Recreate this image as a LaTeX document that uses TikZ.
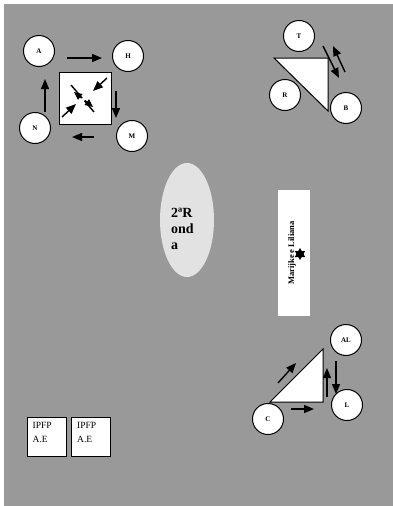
\documentclass[tikz,border=0pt]{standalone}
\usepackage{fontspec}
\setmainfont{Liberation Serif}
\usetikzlibrary{arrows.meta,shapes.geometric,calc}
\definecolor{bg}{HTML}{999999}
\definecolor{ovalfill}{HTML}{E2E2E2}
\tikzset{
  person/.style={circle,draw=black,line width=1pt,fill=white,minimum size=31pt,inner sep=0pt,font=\bfseries\fontsize{7}{8}\selectfont},
  mov/.style={line width=1.4pt,-{Triangle[length=10pt,width=8pt]}},
  boxw/.style={draw=black,line width=1pt,fill=white},
  ipfp/.style={draw=black,line width=1pt,fill=white,minimum width=39pt,minimum height=39pt,inner sep=0pt}
}
\begin{document}
\begin{tikzpicture}[x=1pt,y=-1pt]
\useasboundingbox (0,0) rectangle (393,506);
\fill[white] (0,0) rectangle (393,506);
\fill[bg] (4,4) rectangle (393,506);

% top-left group
\node[boxw,minimum width=52pt,minimum height=52pt,inner sep=0pt] (sq) at (85,98) {};
\node[person] (A) at (39,51) {A};
\node[person] (H) at (128,56) {H};
\node[person] (N) at (35,128) {N};
\node[person] (M) at (132,136) {M};
\coordinate (a1) at (67,58); \coordinate (a2) at (102,58);
\coordinate (b1) at (116,91); \coordinate (b2) at (116,118);
\coordinate (c1) at (94,137); \coordinate (c2) at (72,137);
\coordinate (d1) at (45,112); \coordinate (d2) at (45,79);
\draw[mov] (a1) -- (a2);
\draw[mov] (b1) -- (b2);
\draw[mov] (c1) -- (c2);
\draw[mov] (d1) -- (d2);
% inside square
\coordinate (s1) at (71,85); \coordinate (s2) at (94,112);
\draw[line width=1.4pt] (s1) -- (s2);
\coordinate (e1) at (107,78); \coordinate (e2) at (93,91);
\coordinate (f1) at (62,117); \coordinate (f2) at (76,104);
\coordinate (g1) at (74,92); \coordinate (g2) at (93,107);
\draw[mov] (e1) -- (e2);
\draw[mov] (f1) -- (f2);
\draw[line width=1.4pt,{Triangle[length=8pt,width=7pt]}-{Triangle[length=8pt,width=7pt]}] (g1) -- (g2);
\node[circle,fill=white,minimum size=4pt,inner sep=0pt] (dot) at (83,99.5) {};

% top-right group
\coordinate (t1) at (274,58); \coordinate (t2) at (328,58); \coordinate (t3) at (328,111);
\draw[boxw] (t1) -- (t2) -- (t3) -- cycle;
\node[person] (T) at (299,36) {T};
\node[person] (R) at (285,95) {R};
\node[person] (B) at (346,108) {B};
\coordinate (h1) at (323,46); \coordinate (h2) at (339,78);
\coordinate (k1) at (345,72); \coordinate (k2) at (333,46);
\draw[mov] (h1) -- (h2);
\draw[mov] (k1) -- (k2);

% oval
\node[ellipse,fill=ovalfill,minimum width=54pt,minimum height=114pt,inner sep=0pt] (ov) at (187,220) {};
\node[anchor=north west,align=left,font=\bfseries\fontsize{14}{16}\selectfont,inner sep=0pt] (ovt) at (171,208) {2ªR\\ond\\a};

% white rectangle
\node[fill=white,minimum width=32pt,minimum height=126pt,inner sep=0pt] (wr) at (294,253) {};
\node[rotate=90,font=\bfseries\fontsize{8.5}{9}\selectfont,inner sep=0pt] (ml) at (292,253) {Marijke e Liliana};
\coordinate (st) at (300,254);
\fill[black] ($(st)+(0,-6)$) -- ($(st)+(5.2,3)$) -- ($(st)+(-5.2,3)$) -- cycle;
\fill[black] ($(st)+(0,6)$) -- ($(st)+(5.2,-3)$) -- ($(st)+(-5.2,-3)$) -- cycle;

% bottom-right group
\coordinate (u1) at (270,402); \coordinate (u2) at (323,349); \coordinate (u3) at (323,402);
\draw[boxw] (u1) -- (u2) -- (u3) -- cycle;
\node[person] (AL) at (346,340) {AL};
\node[person] (L) at (347,405) {L};
\node[person] (C) at (268,419) {C};
\coordinate (p1) at (278,383); \coordinate (p2) at (296,363);
\coordinate (q1) at (291,409); \coordinate (q2) at (314,409);
\coordinate (r1) at (327,397); \coordinate (r2) at (327,368);
\coordinate (w1) at (336,361); \coordinate (w2) at (336,394);
\draw[mov] (p1) -- (p2);
\draw[mov] (q1) -- (q2);
\draw[mov] (r1) -- (r2);
\draw[mov] (w1) -- (w2);

% IPFP boxes
\node[ipfp] (i1) at (46.5,436.5) {};
\node[ipfp] (i2) at (91,436.5) {};
\node[anchor=north west,align=left,font=\fontsize{9.5}{14}\selectfont,inner sep=0pt] (i1t) at (32.5,422) {IPFP\\A.E};
\node[anchor=north west,align=left,font=\fontsize{9.5}{14}\selectfont,inner sep=0pt] (i2t) at (77,422) {IPFP\\A.E};
\end{tikzpicture}
\end{document}
